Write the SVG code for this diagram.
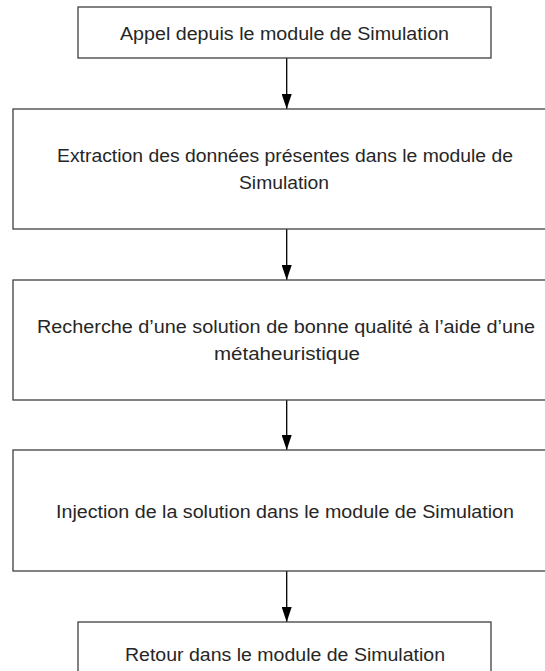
<svg xmlns="http://www.w3.org/2000/svg" width="545" height="671" viewBox="0 0 545 671">
<style>
.box{fill:#fff;stroke:#404040;stroke-width:1.3}
.t{font-family:"Liberation Sans",Arial,sans-serif;font-size:17.5px;fill:#262626;text-anchor:middle}
.c{stroke:#000;stroke-width:1.3;fill:none}
</style>
<defs>
<marker id="ah" markerWidth="15" markerHeight="10" refX="15" refY="5" orient="auto" markerUnits="userSpaceOnUse" viewBox="0 0 15 10">
<path d="M0,0 L15,5 L0,10 Z" fill="#000"/>
</marker>
</defs>
<rect width="545" height="671" fill="#fff"/>
<g id="connectors">
<line class="c" x1="286.7" y1="58" x2="286.7" y2="109" marker-end="url(#ah)"/>
<line class="c" x1="286.7" y1="229" x2="286.7" y2="280" marker-end="url(#ah)"/>
<line class="c" x1="286.7" y1="400" x2="286.7" y2="450" marker-end="url(#ah)"/>
<line class="c" x1="286.7" y1="571" x2="286.7" y2="622" marker-end="url(#ah)"/>
</g>
<g id="n1">
<rect class="box" x="78" y="7" width="413" height="51"/>
<text class="t" x="284.5" y="39.5" textLength="329" lengthAdjust="spacingAndGlyphs">Appel depuis le module de Simulation</text>
</g>
<g id="n2">
<rect class="box" x="13" y="109" width="547" height="120"/>
<text class="t" x="285" y="162" textLength="456" lengthAdjust="spacingAndGlyphs">Extraction des données présentes dans le module de</text>
<text class="t" x="284" y="189" textLength="90" lengthAdjust="spacingAndGlyphs">Simulation</text>
</g>
<g id="n3">
<rect class="box" x="13" y="280" width="547" height="120"/>
<text class="t" x="286" y="333" textLength="498" lengthAdjust="spacingAndGlyphs">Recherche d’une solution de bonne qualité à l’aide d’une</text>
<text class="t" x="287" y="360" textLength="146" lengthAdjust="spacingAndGlyphs">métaheuristique</text>
</g>
<g id="n4">
<rect class="box" x="13" y="450" width="547" height="121"/>
<text class="t" x="285" y="517.5" textLength="458" lengthAdjust="spacingAndGlyphs">Injection de la solution dans le module de Simulation</text>
</g>
<g id="n5">
<rect class="box" x="78" y="622" width="413" height="64"/>
<text class="t" x="285" y="661" textLength="320" lengthAdjust="spacingAndGlyphs">Retour dans le module de Simulation</text>
</g>
</svg>
